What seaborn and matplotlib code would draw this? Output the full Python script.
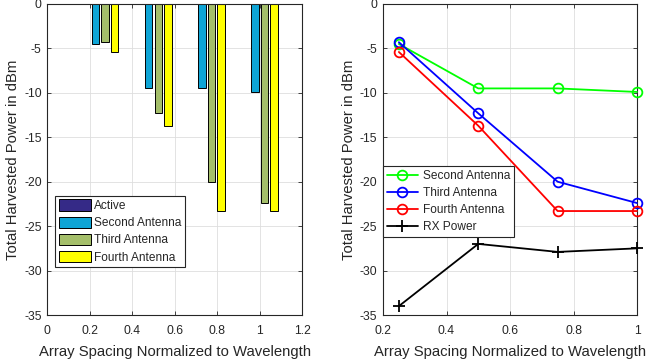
import numpy as np
import pandas as pd
import matplotlib
matplotlib.use('Agg')
import matplotlib.pyplot as plt
import seaborn as sns

#%% data
spacing = [0.25, 0.5, 0.75, 1.0]
series_names = ['Active', 'Second Antenna', 'Third Antenna', 'Fourth Antenna']
active = [0.0, 0.0, 0.0, 0.0]
second = [-4.5, -9.5, -9.5, -9.9]
third = [-4.3, -12.3, -20.0, -22.4]
fourth = [-5.4, -13.7, -23.3, -23.3]
rx_power = [-34.0, -27.0, -27.9, -27.5]

bar_colors = ['#352a87', '#0ea5d6', '#a4be6a', '#ffff00']
line_colors = {'Second Antenna': '#00ff00', 'Third Antenna': '#0000ff',
               'Fourth Antenna': '#ff0000'}

bars_df = pd.DataFrame({
    'Spacing': spacing * 4,
    'Power': active + second + third + fourth,
    'Series': np.repeat(series_names, len(spacing)),
})

#%% style
sns.set_theme(style='whitegrid')
plt.rcParams['font.family'] = ['Liberation Sans', 'DejaVu Sans']
text_color = '#262626'

fig = plt.figure(figsize=(6.48, 3.6), dpi=100)
ax1 = fig.add_axes([47.3 / 648, 45 / 360, 255 / 648, 311 / 360])
ax2 = fig.add_axes([383 / 648, 45 / 360, 254 / 648, 311 / 360])

#%% left: grouped bars
sns.barplot(
    data=bars_df, x='Spacing', y='Power', hue='Series',
    hue_order=series_names, palette=bar_colors, saturation=1,
    native_scale=True, width=0.72, gap=0.22, errorbar=None,
    edgecolor='black', linewidth=0.7, ax=ax1
)
ax1.set_xlim(0, 1.2)
ax1.set_xticks(np.arange(0, 1.21, 0.2))
ax1.set_xticklabels(['0', '0.2', '0.4', '0.6', '0.8', '1', '1.2'])
leg1 = ax1.legend(loc='lower left', bbox_to_anchor=(0.03, 0.154), borderaxespad=0,
                  fontsize=8.6, handlelength=2.7, handleheight=1.05, handletextpad=0.25,
                  labelspacing=0.38, borderpad=0.3, frameon=True, fancybox=False)

#%% right: lines
for name, vals in zip(series_names[1:], [second, third, fourth]):
    sns.lineplot(x=spacing, y=vals, color=line_colors[name], marker='o',
                 markerfacecolor='none', markeredgecolor=line_colors[name],
                 markeredgewidth=1.3, markersize=7, linewidth=1.3, label=name,
                 clip_on=False, zorder=3, ax=ax2)
sns.lineplot(x=spacing, y=rx_power, color='black', marker='+', markersize=9,
             markeredgecolor='black', markeredgewidth=1.3, linewidth=1.3,
             label='RX Power', clip_on=False, zorder=3, ax=ax2)
ax2.set_xlim(0.2, 1.0)
ax2.set_xticks([0.2, 0.4, 0.6, 0.8, 1.0])
ax2.set_xticklabels(['0.2', '0.4', '0.6', '0.8', '1'])
leg2 = ax2.legend(loc='lower left', bbox_to_anchor=(0.0, 0.251), borderaxespad=0,
                  fontsize=8.6, handlelength=2.6, handletextpad=0.4,
                  labelspacing=0.42, borderpad=0.32, frameon=True, fancybox=False)
leg2.set_zorder(5)

#%% shared axis formatting
for ax, leg in [(ax1, leg1), (ax2, leg2)]:
    ax.set_ylim(-35, 0)
    ax.set_yticks(np.arange(-35, 1, 5))
    ax.set_yticklabels([str(v) for v in range(-35, 1, 5)])
    ax.set_facecolor('white')
    ax.grid(True, color='#dedede', linewidth=0.6)
    for s in ax.spines.values():
        s.set_visible(True)
        s.set_color(text_color)
        s.set_linewidth(0.8)
    ax.tick_params(direction='in', length=3, width=0.6, color=text_color,
                   labelsize=8.7, labelcolor=text_color, top=True, right=True,
                   bottom=True, left=True)
    ax.tick_params(axis='x', pad=7)
    ax.tick_params(axis='y', pad=4)
    ax.set_xlabel('Array Spacing Normalized to Wavelength', fontsize=10.7,
                  color=text_color, labelpad=6)
    ax.set_ylabel('Total Harvested Power in dBm', fontsize=10.7,
                  color=text_color, labelpad=3)
    leg.get_frame().set_edgecolor(text_color)
    leg.get_frame().set_linewidth(0.8)
    leg.get_frame().set_facecolor('white')
    leg.get_frame().set_alpha(1)
    for t in leg.get_texts():
        t.set_color(text_color)

fig.savefig('out.png', dpi=100)
